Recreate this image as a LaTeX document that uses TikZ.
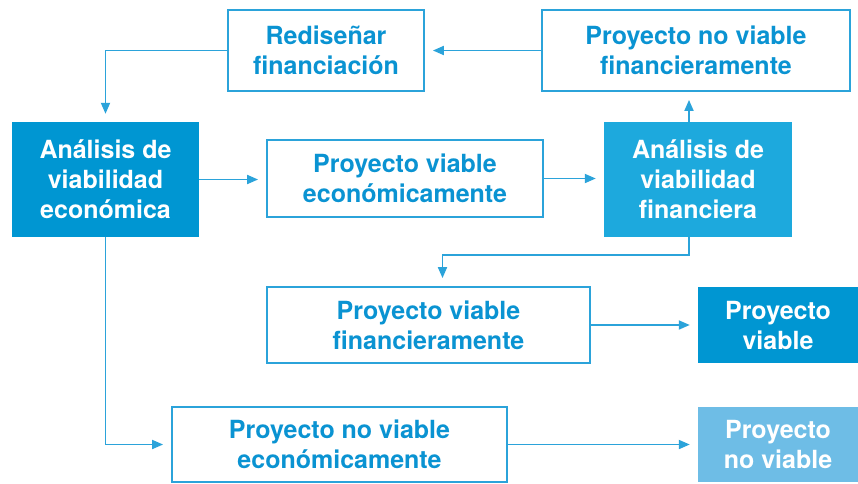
\documentclass[tikz,border=0pt]{standalone}
\usepackage{fontspec}
\setmainfont{TeX Gyre Heros}
\usetikzlibrary{arrows.meta}
\definecolor{azulosc}{RGB}{0,150,210}
\definecolor{azulmed}{RGB}{29,169,221}
\definecolor{azulcla}{RGB}{110,189,230}
\definecolor{azulfil}{RGB}{43,163,218}
\definecolor{azultxt}{RGB}{10,147,210}
\begin{document}
\begin{tikzpicture}[x=1pt,y=-1pt,
	caja/.style={draw=azulfil,line width=1.8pt,fill=white,text=azultxt,align=center,inner sep=0pt,
		font=\fontsize{25}{30}\selectfont\bfseries},
	llena/.style={fill=#1,text=white,align=center,inner sep=0pt,
		font=\fontsize{25}{30}\selectfont\bfseries},
	flecha/.style={draw=azulfil,line width=1.8pt,-{Triangle[length=11pt,width=9pt]},shorten >=8pt}]
	\useasboundingbox (0,0) rectangle (858,483);

	\node[caja,minimum width=196,minimum height=81] (redis) at (326,50.5) {Rediseñar\\financiación};
	\node[caja,minimum width=308,minimum height=81] (nofin) at (696,50.5) {Proyecto no viable\\financieramente};
	\node[llena=azulosc,minimum width=187,minimum height=115] (aneco) at (105.5,179.5) {Análisis de\\viabilidad\\económica};
	\node[caja,minimum width=276,minimum height=77] (vieco) at (405,178.5) {Proyecto viable\\económicamente};
	\node[llena=azulmed,minimum width=188,minimum height=115] (anfin) at (698,179.5) {Análisis de\\viabilidad\\financiera};
	\node[caja,minimum width=323,minimum height=76] (vifin) at (428.5,325) {Proyecto viable\\financieramente};
	\node[llena=azulosc,minimum width=160,minimum height=76] (viable) at (778,325) {Proyecto\\viable};
	\node[caja,minimum width=335,minimum height=75] (noeco) at (339.5,444.5) {Proyecto no viable\\económicamente};
	\node[llena=azulcla,minimum width=160,minimum height=75] (noviable) at (778,444.5) {Proyecto\\no viable};

	\coordinate (codo) at (689,255);

	\draw[flecha] (redis.west) -| (aneco.north);
	\draw[flecha] (nofin.west) -- (redis.east);
	\draw[flecha] (aneco.east) -- (aneco.east -| vieco.west);
	\draw[flecha] (vieco.east) -- (vieco.east -| anfin.west);
	\draw[flecha] ([xshift=-9pt]anfin.north) -- ([xshift=-9pt]anfin.north |- nofin.south);
	\draw[flecha] ([xshift=-9pt]anfin.south) -- (codo) -| ([xshift=14pt]vifin.north);
	\draw[flecha] (vifin.east) -- (viable.west);
	\draw[flecha] (aneco.south) |- (noeco.west);
	\draw[flecha] (noeco.east) -- (noviable.west);
\end{tikzpicture}
\end{document}
